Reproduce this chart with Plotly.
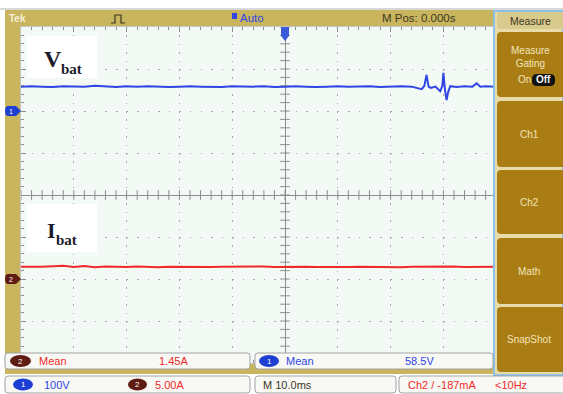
import numpy as np
import plotly.graph_objects as go

W, H = 563, 394

# ---- scope settings -------------------------------------------------------
time_per_div = 10.0        # ms / div
ch1_per_div = 100.0        # V / div
ch2_per_div = 5.0          # A / div
ch1_offset_div = 2.0       # ground marker of Ch1 (divisions from centre)
ch2_offset_div = -2.0      # ground marker of Ch2
n_hdiv, n_vdiv = 10, 8

# ---- Ch1: battery voltage (V) vs time (ms) -------------------------------
v_time = [-50, -48, -46, -44, -42, -40, -38, -36, -34, -32, -30, -28, -26, -24,
          -22, -20, -18, -16, -14, -12, -10, -8, -6, -4, -2, 0, 2, 4, 6, 8, 10,
          12, 14, 16, 18, 20, 22, 24,
          25.9, 26.4, 26.8, 27.2, 27.6, 28.5, 29.4, 29.8, 30.0, 30.3, 30.6,
          30.9, 31.3, 32.5, 34, 35.5, 36.3, 37,
          38, 40, 42, 44, 46, 48, 50]
v_volts = [58, 59, 58, 57, 59, 58, 58, 60, 58, 57, 59, 58, 59, 58, 57, 58, 59,
           58, 58, 57, 59, 58, 58, 59, 57, 58, 59, 58, 57, 58, 59, 58, 58, 59,
           57, 58, 59, 58,
           52, 60, 86, 58, 55, 58, 47, 60, 91, 50, 26, 45, 59, 57, 59, 58, 66, 58,
           59, 58, 57, 59, 58, 58, 59]

# ---- Ch2: battery current (A) vs time (ms) -------------------------------
i_time = list(range(-50, 51, 2))
i_amps = [1.45, 1.42, 1.47, 1.52, 1.58, 1.44, 1.55, 1.40, 1.48, 1.45,
          1.43, 1.50, 1.46, 1.41, 1.47, 1.44, 1.49, 1.45, 1.42, 1.46,
          1.48, 1.44, 1.45, 1.50, 1.43, 1.46, 1.44, 1.47, 1.42, 1.45,
          1.49, 1.44, 1.46, 1.43, 1.47, 1.45, 1.41, 1.46, 1.48, 1.44,
          1.45, 1.50, 1.43, 1.46, 1.44, 1.47, 1.45, 1.42, 1.46, 1.44, 1.45]

# ---- readouts ---------------------------------------------------------------
menu_title = "Measure"
menu_buttons = ["Measure<br>Gating", "Ch1", "Ch2", "Math", "SnapShot"]
ch2_mean, ch1_mean = "1.45A", "58.5V"
ch1_scale, ch2_scale = "100V", "5.00A"
timebase = "M 10.0ms"
trigger = "Ch2 / -187mA"
trig_freq = "<10Hz"

# ---- colours ----------------------------------------------------------------
FRAME = "#c9b55d"
BG = "#f3f9f5"
GRID = "#a8a8a8"
CROSS = "#8e8e8e"
BLUE = "#3046e4"
RED = "#ef2a2a"
ICON_BLUE = "#1d3fd4"
ICON_RED = "#5e1c12"
BTN = "#aa7d14"
SEP = "#e8dcaa"
HEADER = "#d9ca8e"
EDGE = "#8cc0e8"
BOX = "#f8f8f5"
BOX_EDGE = "#a2a2a2"
CREAM = "#f1e4ba"
DARK = "#3c3620"
SANS = "Liberation Sans, Arial, sans-serif"
SERIF = "Liberation Serif, Times New Roman, serif"

# graticule area in page pixels
GX0, GX1, GY0, GY1 = 21, 549, 27, 363


def px(x):
    return x / W


def py(y):
    return 1 - y / H


shapes, annos = [], []


def rect(x0, y0, x1, y1, fill, line=None, lw=0, layer="above"):
    shapes.append(dict(type="rect", xref="paper", yref="paper",
                       x0=px(x0), x1=px(x1), y0=py(y1), y1=py(y0),
                       fillcolor=fill, layer=layer,
                       line=dict(color=line or fill, width=lw)))


def rrect(x0, y0, x1, y1, r, fill, line=None, lw=0, layer="above"):
    def p(x, y):
        return f"{px(x):.5f},{py(y):.5f}"
    path = (f"M{p(x0 + r, y0)} L{p(x1 - r, y0)} Q{p(x1, y0)} {p(x1, y0 + r)} "
            f"L{p(x1, y1 - r)} Q{p(x1, y1)} {p(x1 - r, y1)} L{p(x0 + r, y1)} "
            f"Q{p(x0, y1)} {p(x0, y1 - r)} L{p(x0, y0 + r)} Q{p(x0, y0)} {p(x0 + r, y0)} Z")
    shapes.append(dict(type="path", xref="paper", yref="paper", path=path,
                       fillcolor=fill, layer=layer,
                       line=dict(color=line or fill, width=lw)))


def text(x, y, s, color, size=11, anchor="left", family=SANS, yanchor="middle"):
    annos.append(dict(xref="paper", yref="paper", x=px(x), y=py(y), text=s,
                      showarrow=False, xanchor=anchor, yanchor=yanchor,
                      font=dict(color=color, size=size, family=family)))


def icon(x0, x1, yc, fill, num):
    shapes.append(dict(type="circle", xref="paper", yref="paper",
                       x0=px(x0), x1=px(x1), y0=py(yc + 6), y1=py(yc - 6),
                       fillcolor=fill, line=dict(color=fill, width=0), layer="above"))
    text((x0 + x1) / 2, yc, num, "white", 8, "center")


# frame, top strip and graticule background
rect(5, 10, W, 374, FRAME, layer="below")
rect(0, 8, W, 10, "#d8d8d8", layer="below")
rect(GX0, GY0, GX1, GY1, BG, layer="below")

# top bar
text(7, 18, "<b>Tek</b>", "#f6f0d8", 10)
shapes.append(dict(type="path", xref="paper", yref="paper", layer="above",
                   path=(f"M{px(111)},{py(23)} L{px(115)},{py(23)} L{px(115)},{py(15)} "
                         f"L{px(121)},{py(15)} L{px(121)},{py(23)} L{px(125)},{py(23)}"),
                   line=dict(color=DARK, width=1.2)))
rect(232, 13, 237, 19, BLUE)
text(238, 18, "Auto", BLUE, 11.5)
text(380, 18, "M Pos: 0.000s", DARK, 11.5)

# labels for the two traces
rect(27, 36, 97, 78, "#ffffff")
text(42, 59, "<b>V</b>", "#1b1b2b", 24, family=SERIF)
text(59, 69, "<b>bat</b>", "#1b1b2b", 15, family=SERIF)
rect(27, 204, 97, 252, "#ffffff")
text(45, 230, "<b>I</b>", "#1b1b2b", 22, family=SERIF)
text(54, 240, "<b>bat</b>", "#1b1b2b", 15, family=SERIF)

# trigger position marker at t = 0
shapes.append(dict(type="path", xref="x", yref="paper", layer="above",
                   xsizemode="pixel", xanchor=0, ysizemode="pixel", yanchor=py(GY0),
                   path="M-4,0 L4,0 L4,-9 L0,-14 L-4,-9 Z",
                   fillcolor="#3a5ad8", line=dict(color="#3a5ad8", width=0)))

# channel ground markers
for yref, col, num in (("y2", ICON_BLUE, "1"), ("y3", ICON_RED, "2")):
    shapes.append(dict(type="path", xref="paper", yref=yref, layer="above",
                       xsizemode="pixel", xanchor=px(5), ysizemode="pixel", yanchor=0,
                       path="M3,5 L11,5 L16,0 L11,-5 L3,-5 Q0,-5 0,0 Q0,5 3,5 Z",
                       fillcolor=col, line=dict(color=col, width=0)))
    annos.append(dict(xref="paper", yref=yref, x=px(11), y=0, text=num,
                      showarrow=False, xanchor="center", yanchor="middle",
                      font=dict(color="white", size=7, family=SANS)))

# side menu
rect(494, 11, W, 375, SEP, line=EDGE, lw=2)
rrect(497, 12, W + 4, 29, 3, HEADER)
text(530, 21, menu_title, DARK, 10.5, "center")
btn_rows = [(32, 97), (101, 167), (170, 234), (238, 304), (307, 372)]
for (y0, y1), lab in zip(btn_rows, menu_buttons):
    rrect(497, y0, W + 6, y1, 4, BTN)
    if lab.startswith("Measure"):
        text(530, 57, lab, CREAM, 10, "center")
    else:
        text(529, (y0 + y1) / 2, lab, CREAM, 10, "center")
text(516, 80, "On", CREAM, 10)
rrect(532, 74, 555, 86, 5, "#111111")
text(543.5, 80, "<b>Off</b>", "#f4f4f4", 10, "center")

# measurement readouts
rrect(5, 353, 250, 369, 3, BOX, BOX_EDGE, 1)
rrect(255, 353, 493, 369, 3, BOX, BOX_EDGE, 1)
icon(10, 31, 361, ICON_RED, "2")
text(37, 361, "Mean", RED, 11)
text(157, 361, ch2_mean, RED, 11)
icon(259, 279, 361, ICON_BLUE, "1")
text(284, 361, "Mean", BLUE, 11)
text(403, 361, ch1_mean, BLUE, 11)

# settings row
rrect(5, 376, 250, 393, 3, BOX, BOX_EDGE, 1)
rrect(255, 376, 396, 393, 3, BOX, BOX_EDGE, 1)
rrect(399, 376, W + 4, 393, 3, BOX, BOX_EDGE, 1)
icon(13, 33, 384.5, ICON_BLUE, "1")
text(42, 384.5, ch1_scale, BLUE, 11)
icon(128, 147, 384.5, ICON_RED, "2")
text(153, 384.5, ch2_scale, RED, 11)
text(261, 384.5, timebase, DARK, 11)
text(406, 384.5, trigger, RED, 11)
text(493, 384.5, trig_freq, RED, 11)

# ---- graticule ---------------------------------------------------------------
half_t = n_hdiv / 2 * time_per_div
half_d = n_vdiv / 2
minor_t = np.arange(-half_t, half_t + 1e-9, time_per_div / 5)
minor_d = np.arange(-half_d, half_d + 1e-9, 0.2)

fig = go.Figure()

# centre-cross tick marks
fig.add_trace(go.Scatter(x=minor_t, y=np.zeros_like(minor_t), mode="markers",
                         marker=dict(symbol="line-ns", size=7,
                                     line=dict(color=CROSS, width=1)),
                         hoverinfo="skip", showlegend=False))
fig.add_trace(go.Scatter(x=np.zeros_like(minor_d), y=minor_d, mode="markers",
                         marker=dict(symbol="line-ew", size=7,
                                     line=dict(color=CROSS, width=1)),
                         hoverinfo="skip", showlegend=False))

# waveforms
fig.add_trace(go.Scatter(x=v_time, y=v_volts, yaxis="y2", mode="lines",
                         line=dict(color=BLUE, width=2), showlegend=False))
fig.add_trace(go.Scatter(x=i_time, y=i_amps, yaxis="y3", mode="lines",
                         line=dict(color=RED, width=2), showlegend=False))

ax_common = dict(showticklabels=False, ticks="inside", ticklen=5, tickcolor=CROSS,
                 showline=True, linecolor="#c4c4c4", linewidth=1, mirror="ticks",
                 showgrid=True, gridcolor=GRID, gridwidth=1,
                 zeroline=True, zerolinecolor=CROSS, zerolinewidth=1, fixedrange=True)

fig.update_layout(
    width=W, height=H, autosize=False,
    margin=dict(l=0, r=0, t=0, b=0, pad=0),
    paper_bgcolor="#ffffff", plot_bgcolor="rgba(0,0,0,0)",
    hovermode=False, showlegend=False,
    xaxis=dict(domain=[px(GX0), px(GX1)], range=[-half_t, half_t], dtick=time_per_div,
               griddash="1.5px,6.9px",
               minor=dict(dtick=time_per_div / 5, ticks="inside", ticklen=3,
                          tickcolor=CROSS, showgrid=False),
               **ax_common),
    yaxis=dict(domain=[py(GY1), py(GY0)], range=[-half_d, half_d], dtick=1,
               griddash="1.5px,9.06px",
               minor=dict(dtick=0.2, ticks="inside", ticklen=3,
                          tickcolor=CROSS, showgrid=False),
               **ax_common),
    yaxis2=dict(overlaying="y", visible=False, fixedrange=True,
                range=[(-half_d - ch1_offset_div) * ch1_per_div,
                       (half_d - ch1_offset_div) * ch1_per_div]),
    yaxis3=dict(overlaying="y", visible=False, fixedrange=True,
                range=[(-half_d - ch2_offset_div) * ch2_per_div,
                       (half_d - ch2_offset_div) * ch2_per_div]),
    shapes=shapes,
    annotations=annos,
)

fig.write_html("out.html", config=dict(displayModeBar=False))
